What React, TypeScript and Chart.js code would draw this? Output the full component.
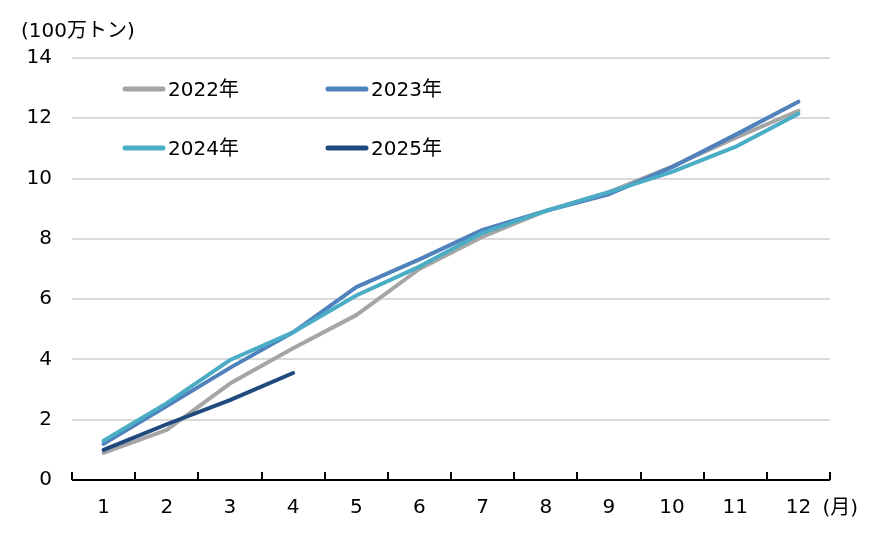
import React, { useEffect, useRef } from "react";
import { Chart, registerables } from "chart.js";

Chart.register(...registerables);

const months = ["1", "2", "3", "4", "5", "6", "7", "8", "9", "10", "11", "12"];
const yTicks = [0, 2, 4, 6, 8, 10, 12, 14];
const unitLabel = "(100万トン)";
const monthUnit = "(月)";

const seriesNames = ["2022年", "2023年", "2024年", "2025年"];
const seriesColors = ["#A5A5A5", "#4F81BD", "#4BACC6", "#1F497D"];

const v2022 = [0.9, 1.66, 3.2, 4.37, 5.47, 7.0, 8.07, 8.93, 9.55, 10.4, 11.35, 12.25];
const v2023 = [1.2, 2.45, 3.72, 4.9, 6.4, 7.32, 8.3, 8.93, 9.48, 10.38, 11.45, 12.55];
const v2024 = [1.3, 2.55, 3.98, 4.9, 6.12, 7.08, 8.2, 8.93, 9.55, 10.22, 11.05, 12.15];
const v2025 = [1.0, 1.85, 2.65, 3.55, null, null, null, null, null, null, null, null];

const FONT = '"DejaVu Sans", "Noto Sans CJK JP", sans-serif';

const decorPlugin = {
  id: "decor",
  afterDatasetsDraw(chart: any) {
    const ctx = chart.ctx;
    const area = chart.chartArea;
    const xs = chart.scales.x;
    ctx.save();
    // x axis line
    ctx.strokeStyle = "#000";
    ctx.lineWidth = 2;
    ctx.beginPath();
    ctx.moveTo(area.left, area.bottom);
    ctx.lineTo(area.right, area.bottom);
    ctx.stroke();
    // inward ticks at category boundaries
    const n = chart.data.labels.length;
    const step = (area.right - area.left) / n;
    ctx.beginPath();
    for (let i = 0; i <= n; i++) {
      const x = Math.round(area.left + i * step);
      ctx.moveTo(x, area.bottom);
      ctx.lineTo(x, area.bottom - 8);
    }
    ctx.stroke();

    // legend inside plot
    ctx.font = `20px ${FONT}`;
    ctx.textBaseline = "middle";
    ctx.textAlign = "left";
    const ds = chart.data.datasets;
    const colX = [area.left + 51, area.left + 254];
    const rowY = [area.top + 31, area.top + 90];
    ds.forEach((d: any, i: number) => {
      const cx = colX[i % 2];
      const cy = rowY[Math.floor(i / 2)];
      ctx.strokeStyle = d.borderColor;
      ctx.lineWidth = 5;
      ctx.lineCap = "round";
      ctx.beginPath();
      ctx.moveTo(cx + 2, cy);
      ctx.lineTo(cx + 40, cy);
      ctx.stroke();
      ctx.fillStyle = "#000";
      ctx.fillText(d.label, cx + 45, cy + 2);
    });

    // unit labels
    ctx.fillStyle = "#000";
    ctx.textAlign = "left";
    ctx.fillText(unitLabel, 13, 24);
    const lastX = xs.getPixelForValue(n - 1);
    ctx.fillText(monthUnit, lastX + 24, 501);
    ctx.restore();
  },
};

export default function App() {
  const ref = useRef<HTMLCanvasElement | null>(null);
  useEffect(() => {
    if (!ref.current) return;
    const data = [v2022, v2023, v2024, v2025];
    const chart = new Chart(ref.current, {
      type: "line",
      data: {
        labels: months,
        datasets: data.map((vals, i) => ({
          label: seriesNames[i],
          data: vals,
          borderColor: seriesColors[i],
          backgroundColor: seriesColors[i],
          borderWidth: 4,
          pointRadius: 0,
          tension: 0,
          fill: false,
          spanGaps: false,
          borderCapStyle: "round",
          borderJoinStyle: "round",
          order: data.length - i,
        })),
      },
      options: {
        responsive: false,
        animation: false,
        layout: { padding: { top: 50, right: 42, left: 0, bottom: 0 } },
        plugins: {
          legend: { display: false },
          tooltip: { enabled: false },
          title: { display: false },
        },
        scales: {
          x: {
            type: "category",
            offset: true,
            grid: { display: false, drawTicks: false },
            border: { display: false },
            ticks: {
              color: "#000",
              font: { family: FONT, size: 20 },
              padding: 16,
              maxRotation: 0,
              autoSkip: false,
            },
            afterFit: (s: any) => {
              s.height = 52;
            },
          },
          y: {
            min: yTicks[0],
            max: yTicks[yTicks.length - 1],
            afterBuildTicks: (s: any) => {
              s.ticks = yTicks.map((v) => ({ value: v }));
            },
            grid: { color: "#d9d9d9", lineWidth: 2, drawTicks: false },
            border: { display: false },
            ticks: {
              color: "#000",
              font: { family: FONT, size: 20 },
              padding: 20,
            },
            afterFit: (s: any) => {
              s.width = 64;
            },
          },
        },
      },
      plugins: [decorPlugin],
    } as any);
    return () => chart.destroy();
  }, []);
  return (
    <div style={{ width: 864, height: 524 }}>
      <canvas ref={ref} width={864} height={524} style={{ width: 864, height: 524 }} />
    </div>
  );
}
